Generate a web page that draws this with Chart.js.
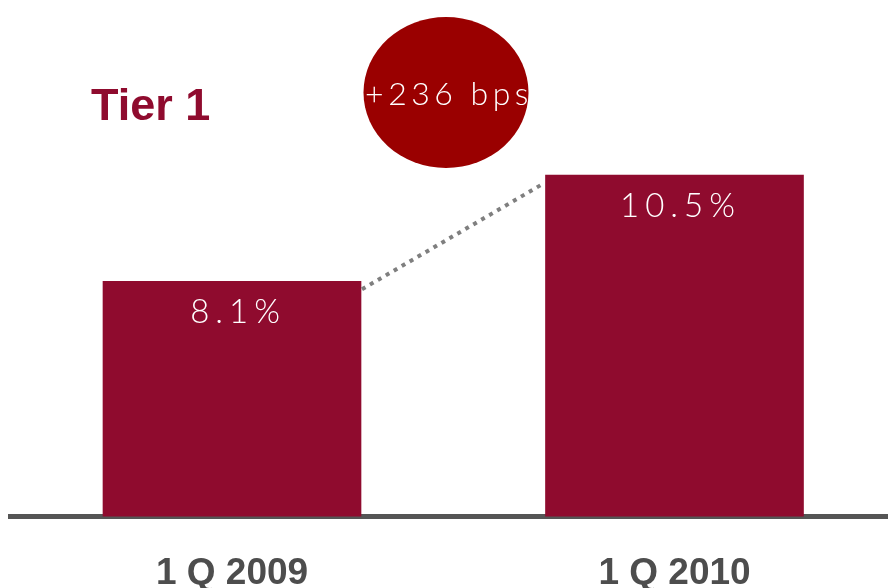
<!DOCTYPE html>
<html>
<head>
<meta charset="utf-8">
<script src="https://cdn.jsdelivr.net/npm/chart.js@4"></script>
<style>
  html, body { margin: 0; padding: 0; background: #ffffff; overflow: hidden; }
  #wrap { width: 888px; height: 588px; position: relative; }
</style>
</head>
<body>
<div id="wrap"><canvas id="c" width="888" height="588"></canvas></div>
<script>
// ---- data ----
const categories = ['1 Q 2009', '1 Q 2010'];
const tier1Values = [8.1, 10.5];
const valueLabels = ['8.1%', '10.5%'];
const chartTitle = 'Tier 1';
const changeLabel = '+236 bps';

const BAR = '#8f0b2e';
const LIGHT_FONT = '"Lato", "Open Sans", "DejaVu Sans", sans-serif';

const overlayPlugin = {
  id: 'overlay',
  afterDatasetsDraw(chart) {
    const ctx = chart.ctx;
    const meta = chart.getDatasetMeta(0);
    const b1 = meta.data[0], b2 = meta.data[1];
    // dotted connector
    ctx.save();
    ctx.strokeStyle = '#7f7f7f';
    ctx.lineWidth = 4;
    ctx.setLineDash([4, 5.2]);
    ctx.beginPath();
    ctx.moveTo(b1.x + b1.width / 2 + 1, b1.y + 8);
    ctx.lineTo(b2.x - b2.width / 2 - 3, b2.y + 9);
    ctx.stroke();
    ctx.restore();

    // value labels inside bars
    ctx.save();
    ctx.fillStyle = '#ffffff';
    ctx.font = '300 33px ' + LIGHT_FONT;
    ctx.textAlign = 'center';
    ctx.textBaseline = 'alphabetic';
    ctx.letterSpacing = '6px';
    meta.data.forEach((el, i) => {
      ctx.fillText(valueLabels[i], el.x + 3 + 3, el.y + 42);
    });
    ctx.restore();
  },
  afterDraw(chart) {
    const ctx = chart.ctx;
    // ellipse annotation
    ctx.save();
    ctx.fillStyle = '#9a0000';
    ctx.beginPath();
    ctx.ellipse(446, 92.5, 82.5, 75.5, 0, 0, Math.PI * 2);
    ctx.fill();
    ctx.fillStyle = '#ffffff';
    ctx.font = '300 32px ' + LIGHT_FONT;
    ctx.textAlign = 'center';
    ctx.textBaseline = 'alphabetic';
    ctx.letterSpacing = '4.5px';
    ctx.fillText(changeLabel, 447 + 2, 105);
    ctx.restore();

    // title
    ctx.save();
    ctx.fillStyle = BAR;
    ctx.font = 'bold 45px "Liberation Sans", Arial, sans-serif';
    ctx.textAlign = 'left';
    ctx.textBaseline = 'alphabetic';
    ctx.fillText(chartTitle, 91, 120);
    ctx.restore();
  }
};

new Chart(document.getElementById('c'), {
  type: 'bar',
  data: {
    datasets: [{
      data: tier1Values.map((v, i) => ({ x: i, y: v })),
      backgroundColor: BAR,
      borderWidth: 0,
      barThickness: 258
    }]
  },
  options: {
    responsive: false,
    animation: false,
    events: [],
    layout: { padding: { left: 10, right: 0, top: 0, bottom: 0 } },
    plugins: { legend: { display: false }, tooltip: { enabled: false }, title: { display: false } },
    scales: {
      x: {
        type: 'linear',
        offset: false,
        bounds: 'data',
        min: -0.5017,
        max: 1.4825,
        z: 1,
        grid: { display: false, drawTicks: false, offset: false },
        border: { display: true, color: '#555555', width: 5 },
        afterBuildTicks(scale) { scale.ticks = categories.map((_, i) => ({ value: i })); },
        afterFit(scale) { scale.height = 71.5; },
        ticks: {
          autoSkip: false,
          maxRotation: 0,
          padding: 38.5,
          color: '#4d4d4d',
          font: { family: '"Liberation Sans", Arial, sans-serif', size: 37, weight: 'bold', lineHeight: 1 },
          callback: (v) => categories[v]
        }
      },
      y: {
        display: false,
        min: 2.78,
        max: 14.46
      }
    }
  },
  plugins: [overlayPlugin]
});
</script>
</body>
</html>
